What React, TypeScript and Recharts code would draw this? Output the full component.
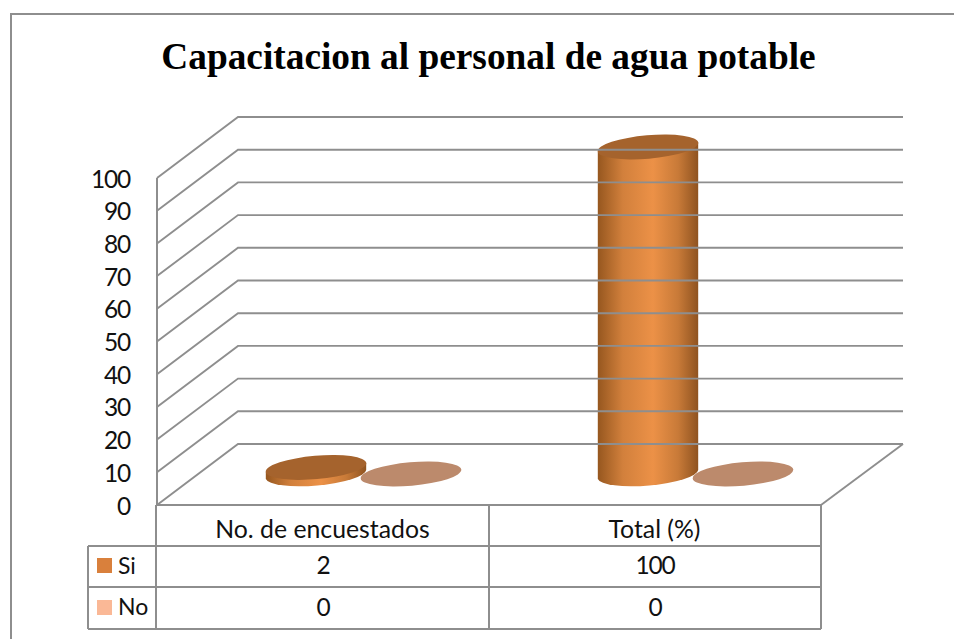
import React from 'react';
import { BarChart, Bar, XAxis, YAxis } from 'recharts';

const categories = ['No. de encuestados', 'Total (%)'];
const siValues = [2, 100];
const noValues = [0, 0];
const yTicks = [0, 10, 20, 30, 40, 50, 60, 70, 80, 90, 100];

const data = categories.map((name, i) => ({ name, si: siValues[i], no: noValues[i] }));

const LINE = '#8e8e8e';
const FONT = 'Lato, Carlito, sans-serif';
const PLOT_LEFT = 157;
const PLOT_RIGHT = 821;
const PLOT_BOTTOM = 505;
const BAND = (PLOT_RIGHT - PLOT_LEFT) / categories.length;
const DEPTH_X = 81;
const DEPTH_Y = 61;
const TABLE_LEFT = 88;

// y axis tick: label plus the wall lines running to the back
function WallTick(props: any) {
  const { y, payload } = props;
  const backX = PLOT_LEFT + DEPTH_X;
  const backY = y - DEPTH_Y;
  return (
    <g>
      <polyline
        points={`${PLOT_LEFT},${y} ${backX},${backY} 903,${backY}`}
        fill="none"
        stroke={LINE}
        strokeWidth={1.9}
      />
      {payload.value === 0 && (
        <line x1={PLOT_RIGHT} y1={y} x2={903} y2={backY} stroke={LINE} strokeWidth={1.9} />
      )}
      <text x={130} y={y + 9.5} textAnchor="end" fontFamily={FONT} fontSize={24.5} letterSpacing={-1.2} fill="#111">
        {payload.value}
      </text>
    </g>
  );
}

// x axis tick: category label and its column of the data table
function TableTick(props: any) {
  const { x, payload, index } = props;
  const right = x + BAND / 2;
  return (
    <g>
      <text x={x - 0.5} y={538} textAnchor="middle" fontFamily={FONT} fontSize={24.8} fill="#111">
        {payload.value}
      </text>
      <text x={x} y={574} textAnchor="middle" fontFamily={FONT} fontSize={24.5} letterSpacing={-1.2} fill="#111">
        {siValues[index]}
      </text>
      <text x={x} y={615.5} textAnchor="middle" fontFamily={FONT} fontSize={24.5} letterSpacing={-1.2} fill="#111">
        {noValues[index]}
      </text>
      <line x1={right} y1={PLOT_BOTTOM} x2={right} y2={629} stroke={LINE} strokeWidth={2} />
      {index === 0 && (
        <g>
          <line x1={PLOT_LEFT - 1} y1={PLOT_BOTTOM} x2={PLOT_LEFT - 1} y2={629} stroke={LINE} strokeWidth={2} />
          <line x1={TABLE_LEFT} y1={546} x2={TABLE_LEFT} y2={629} stroke={LINE} strokeWidth={2} />
          <line x1={TABLE_LEFT} y1={546} x2={PLOT_RIGHT} y2={546} stroke={LINE} strokeWidth={2} />
          <line x1={TABLE_LEFT} y1={587} x2={PLOT_RIGHT} y2={587} stroke={LINE} strokeWidth={2} />
          <line x1={TABLE_LEFT} y1={629} x2={PLOT_RIGHT} y2={629} stroke={LINE} strokeWidth={2} />
          <rect x={97} y={558} width={15} height={15} fill="#d9803c" />
          <text x={118} y={573.5} fontFamily={FONT} fontSize={23} fill="#111">Si</text>
          <rect x={97} y={600} width={15} height={15} fill="#fab896" />
          <text x={118} y={615} fontFamily={FONT} fontSize={23} fill="#111">No</text>
        </g>
      )}
    </g>
  );
}

// cylinder pushed half way into the floor depth, with tilted elliptical caps
function Cylinder(props: any) {
  const { x, y, width, height, capFill } = props;
  const cx = x + width / 2 + DEPTH_X / 2 - 0.5;
  const top = y - DEPTH_Y / 2 - 0.5;
  const bottom = y + height - DEPTH_Y / 2;
  const rx = 50.5;
  const ry = 11.7;
  const ex = 50.2;
  const ey = 4.5;
  const body = `M${cx - ex},${top + ey} L${cx - ex},${bottom + ey} A${rx},${ry} -5 0 0 ${cx + ex},${bottom - ey} L${cx + ex},${top - ey} Z`;
  return (
    <g>
      {height > 0 && <path d={body} fill="url(#cylBody)" />}
      <ellipse cx={cx} cy={top} rx={rx} ry={ry} fill={capFill} transform={`rotate(-5 ${cx} ${top})`} />
    </g>
  );
}

export default function App() {
  return (
    <div style={{ position: 'absolute', left: 0, top: 0, width: 954, height: 639, background: '#fff', overflow: 'hidden' }}>
      <div
        style={{
          position: 'absolute',
          left: 10,
          top: 13,
          width: 960,
          height: 640,
          border: '2px solid #8e8e8e',
          boxSizing: 'border-box',
        }}
      />
      <div
        style={{
          position: 'absolute',
          left: 0,
          top: 34,
          width: 977,
          textAlign: 'center',
          fontFamily: '"Liberation Serif", serif',
          fontWeight: 700,
          fontSize: 37.35,
          lineHeight: '46px',
          color: '#000',
        }}
      >
        Capacitacion al personal de agua potable
      </div>
      <div style={{ position: 'absolute', left: 0, top: 0 }}>
        <BarChart
          width={954}
          height={639}
          data={data}
          margin={{ top: 178, right: 133, bottom: 0, left: 0 }}
          barSize={100}
          barGap={-5}
        >
          <defs>
            <linearGradient id="cylBody" x1="0" y1="0" x2="1" y2="0">
              <stop offset="0" stopColor="#96571f" />
              <stop offset="0.25" stopColor="#d2803c" />
              <stop offset="0.55" stopColor="#ec9147" />
              <stop offset="0.8" stopColor="#c87a38" />
              <stop offset="1" stopColor="#8f5320" />
            </linearGradient>
          </defs>
          <XAxis
            dataKey="name"
            height={134}
            interval={0}
            tickLine={false}
            axisLine={{ stroke: LINE, strokeWidth: 2 }}
            tick={<TableTick />}
          />
          <YAxis
            width={157}
            domain={[0, 100]}
            ticks={yTicks}
            interval={0}
            tickLine={false}
            axisLine={{ stroke: LINE, strokeWidth: 2 }}
            tick={<WallTick />}
          />
          <Bar dataKey="si" isAnimationActive={false} shape={<Cylinder capFill="#a5632d" />} zIndex={500} />
          <Bar dataKey="no" isAnimationActive={false} shape={<Cylinder capFill="#bc8a6c" />} zIndex={400} />
        </BarChart>
      </div>
    </div>
  );
}
